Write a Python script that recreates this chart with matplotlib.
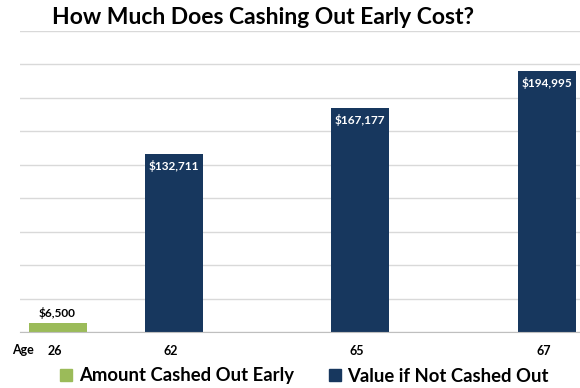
import matplotlib
matplotlib.use("Agg")
import matplotlib.pyplot as plt
from matplotlib.patches import Patch

# Данные
ages = ["26", "62", "65", "67"]
values = [6500, 132711, 167177, 194995]
labels = ["$6,500", "$132,711", "$167,177", "$194,995"]
series = ["Amount Cashed Out Early", "Value if Not Cashed Out",
          "Value if Not Cashed Out", "Value if Not Cashed Out"]

# Оформление
GREEN = "#9BBB59"
NAVY = "#17375E"
x_pos = [37.5, 154, 340, 527]
bar_w = 58
plt.rcParams['font.family'] = ['Lato', 'DejaVu Sans']

fig = plt.figure(figsize=(5.8, 3.88), dpi=100)
ax = fig.add_axes([20/580, 56/388, 560/580, (332-31)/388])

colors = [GREEN if s.startswith("Amount") else NAVY for s in series]
ax.bar(x_pos, values, width=bar_w, color=colors, zorder=3)

for x, v, lab, c in zip(x_pos, values, labels, colors):
    if c == GREEN:
        ax.text(x, v + 3500, lab, ha='center', va='bottom', fontsize=8.5,
                fontweight='bold', color='black')
    else:
        ax.text(x, v - 4500, lab, ha='center', va='top', fontsize=8.5,
                fontweight='bold', color='white')

ax.set_xlim(0, 560)
ax.set_ylim(0, 225000)
ax.set_yticks(range(0, 225001, 25000))
ax.yaxis.grid(True, color="#D9D9D9", linewidth=1, zorder=0)
ax.tick_params(left=False, labelleft=False, bottom=False)
ax.set_xticks([x - 3 for x in x_pos])
ax.set_xticklabels(ages, fontsize=9, fontweight='bold')
ax.tick_params(axis='x', pad=6)
for s in ['top', 'right', 'left']:
    ax.spines[s].set_visible(False)
ax.spines['bottom'].set_color("#BFBFBF")
ax.spines['bottom'].set_zorder(4)

fig.text(23/580, 1 - 350/388, "Age", ha='center', va='center',
         fontsize=9, fontweight='bold')

fig.text(263/580, 1 - 17/388, "How Much Does Cashing Out Early Cost?",
         ha='center', va='center', fontsize=16.5, fontweight='bold')

handles = [Patch(color=GREEN, label="Amount Cashed Out Early"),
           Patch(color=NAVY, label="Value if Not Cashed Out")]
fig.legend(handles=handles, loc='center', bbox_to_anchor=(0.525, 1 - 376/388),
           ncol=2, frameon=False, prop={'size': 13.3, 'weight': 'bold'},
           handlelength=0.65, handleheight=0.65, handletextpad=0.35,
           columnspacing=1.9)

fig.savefig("out.png", dpi=100)
